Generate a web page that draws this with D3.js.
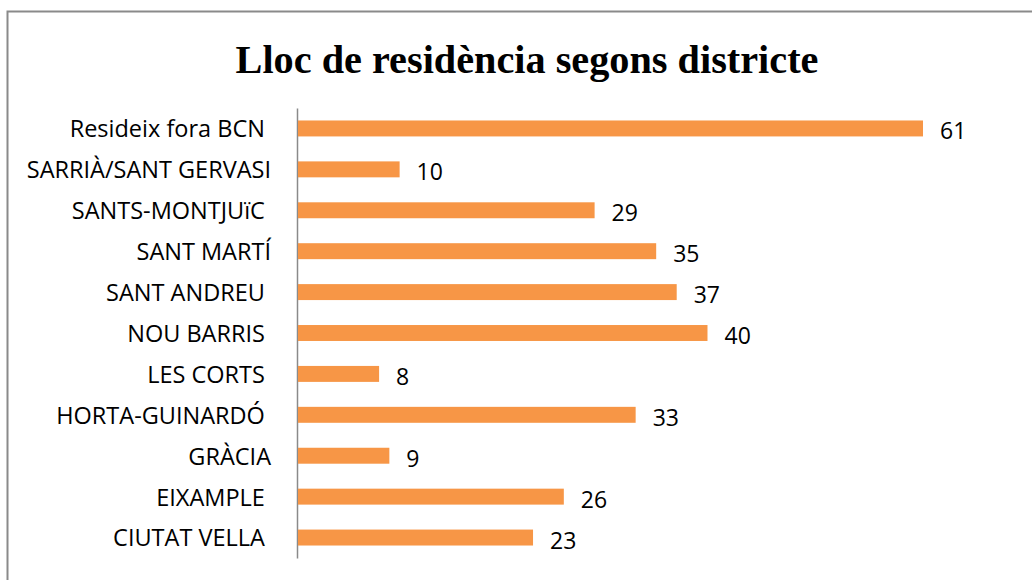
<!DOCTYPE html>
<meta charset="utf-8">
<style>
    body { margin: 0; background: #fff; }
    .title { font-family: "Liberation Serif", serif; font-weight: bold; fill: #000; }
    .cat text { font: 23.5px "Open Sans", sans-serif; fill: #000; white-space: pre; }
    .val { font: 23px "Open Sans", sans-serif; fill: #000; }
    .bar { fill: #f79646; }
</style>
<svg width="1032" height="580"></svg>
<script src="https://cdn.jsdelivr.net/npm/d3@7"></script>
<script>

    // data, bottom to top as in the chart
    var districts = ["CIUTAT VELLA ", "EIXAMPLE ", "GRÀCIA", "HORTA-GUINARDÓ ", "LES CORTS ",
        "NOU BARRIS ", "SANT ANDREU ", "SANT MARTÍ", "SANTS-MONTJUïC ", "SARRIÀ/SANT GERVASI",
        "Resideix fora BCN "];
    var counts = [23, 26, 9, 33, 8, 40, 37, 35, 29, 10, 61];

    var svg = d3.select("svg");

    // chart frame (runs off the right and bottom edge)
    svg.append("rect")
        .attr("x", 7.5).attr("y", 11.5)
        .attr("width", 1040).attr("height", 600)
        .attr("fill", "none")
        .attr("stroke", "#8a8a8a")
        .attr("stroke-width", 2);

    var title = svg.append("text")
        .attr("class", "title")
        .attr("x", 527).attr("y", 73)
        .attr("text-anchor", "middle")
        .style("font-size", "36px")
        .text("Lloc de residència segons districte");
    // fit title to the width it has in the original (~583px)
    var tw = title.node().getComputedTextLength();
    title.style("font-size", (36 * 583 / tw) + "px");

    var x = d3.scaleLinear()
        .domain([0, 61])
        .range([297, 923]);

    var y = d3.scaleBand()
        .domain(districts.slice().reverse())
        .range([108, 558])
        .paddingInner(0.61)
        .paddingOuter(0.305);

    var rows = districts.map(function (d, i) { return { name: d, value: counts[i] }; });

    var yAxis = svg.append("g")
        .attr("class", "cat")
        .attr("transform", "translate(" + x(0) + ",0)")
        .call(d3.axisLeft(y).tickSize(0).tickPadding(26));

    yAxis.select(".domain")
        .attr("stroke", "#8a8a8a")
        .attr("stroke-width", 1.5);
    yAxis.selectAll("text")
        .attr("dy", "0.38em")
        .attr("fill", "#000");

    svg.selectAll(".bar")
        .data(rows)
        .enter().append("rect")
        .attr("class", "bar")
        .attr("x", x(0) + 1)
        .attr("y", function (d) { return y(d.name); })
        .attr("width", function (d) { return x(d.value) - x(0) - 1; })
        .attr("height", y.bandwidth());

    svg.selectAll(".val")
        .data(rows)
        .enter().append("text")
        .attr("class", "val")
        .attr("x", function (d) { return x(d.value) + 17; })
        .attr("y", function (d) { return y(d.name) + y.bandwidth() / 2; })
        .attr("dy", "0.48em")
        .text(function (d) { return d.value; });

</script>
